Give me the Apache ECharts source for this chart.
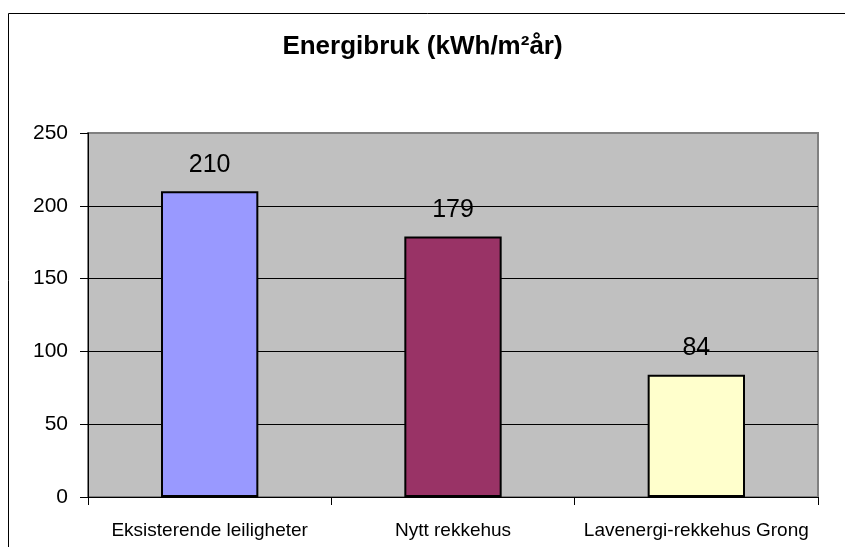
<!DOCTYPE html>
<html>
<head>
<meta charset="utf-8">
<script src="https://cdn.jsdelivr.net/npm/echarts@6/dist/echarts.min.js"></script>
<style>
  html, body { margin: 0; padding: 0; background: #fff; }
  #chart { width: 845px; height: 547px; }
</style>
</head>
<body>
<div id="chart"></div>
<script>
// data
var categories = ['Eksisterende leiligheter', 'Nytt rekkehus', 'Lavenergi-rekkehus Grong']
var values = [210, 179, 84]
var barColors = ['#9999FF', '#993366', '#FFFFCC']

var font = '"Liberation Sans Narrow", "Arial Narrow", "Liberation Sans", Arial, sans-serif'

let myChart = echarts.init(document.getElementById('chart'))
let option = {
  animation: false,
  textStyle: { fontFamily: font },
  title: {
    text: 'Energibruk (kWh/m²år)',
    left: 'center',
    top: 29,
    textStyle: { fontFamily: font, fontSize: 26, fontWeight: 'bold', color: '#000' }
  },
  graphic: [{
    type: 'rect',
    shape: { x: 8.5, y: 13.5, width: 900, height: 600 },
    style: { fill: 'none', stroke: '#000', lineWidth: 1 },
    silent: true,
    z: -10
  }],
  grid: {
    left: 88,
    right: 27,
    top: 133,
    bottom: 50,
    show: true,
    backgroundColor: '#C0C0C0',
    borderColor: '#808080',
    borderWidth: 2
  },
  xAxis: {
    type: 'category',
    data: categories,
    axisLine: { lineStyle: { color: '#000', width: 1 } },
    axisTick: { show: true, length: 8, lineStyle: { color: '#000' } },
    axisLabel: { color: '#000', fontSize: 19, margin: 24, interval: 0, fontFamily: font }
  },
  yAxis: {
    type: 'value',
    min: 0,
    max: 250,
    interval: 50,
    axisLine: { show: true, lineStyle: { color: '#000', width: 1 } },
    axisTick: { show: true, length: 8, lineStyle: { color: '#000' } },
    axisLabel: { color: '#000', fontSize: 21, margin: 20, fontFamily: font },
    splitLine: { show: true, lineStyle: { color: ['#000', '#000', '#000', '#000', '#000', '#808080'], width: 1 } }
  },
  series: [{
    type: 'bar',
    barWidth: '40%',
    data: values.map(function (v, i) {
      return { value: v, itemStyle: { color: barColors[i] } }
    }),
    itemStyle: { borderColor: '#000', borderWidth: 2 },
    label: {
      show: true,
      position: 'top',
      distance: 14,
      color: '#000',
      fontSize: 25,
      fontFamily: font
    }
  }]
}
myChart.setOption(option)
</script>
</body>
</html>
